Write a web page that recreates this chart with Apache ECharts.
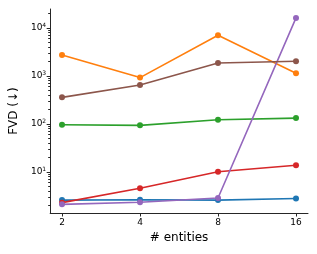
<!DOCTYPE html>
<html><head><meta charset="utf-8">
<script src="https://cdn.jsdelivr.net/npm/echarts@6/dist/echarts.min.js"></script>
<style>html,body{margin:0;padding:0;background:#fff}#c{width:317px;height:254px}</style>
</head><body><div id="c"></div>
<script>
const entities = [2, 4, 8, 16];
const yTicks = [10, 100, 1000, 10000];
const yMinor = [2,3,4,5,6,7,8,9,20,30,40,50,60,70,80,90,200,300,400,500,600,700,800,900,2000,3000,4000,5000,6000,7000,8000,9000,20000];
const seriesBlue   = [2.6, 2.65, 2.6, 2.8];
const seriesOrange = [2750, 930, 7100, 1150];
const seriesGreen  = [97, 94, 123, 133];
const seriesRed    = [2.3, 4.6, 10.1, 13.8];
const seriesPurple = [2.12, 2.35, 2.87, 16300];
const seriesBrown  = [360, 650, 1870, 2040];
const colors = ['#1f77b4','#ff7f0e','#2ca02c','#d62728','#9467bd','#8c564b'];
const allSeries = [seriesBlue, seriesOrange, seriesGreen, seriesRed, seriesPurple, seriesBrown];
const font = 'DejaVu Sans';
const chart = echarts.init(document.getElementById('c'), null, {renderer:'canvas'});
const axisCol = '#262626';
chart.setOption({
  animation:false,
  grid:{left:47, top:9, right:9, bottom:41, containLabel:false},
  xAxis:{
    type:'log', logBase:2, min:1.8, max:17.8,
    name:'# entities', nameLocation:'middle', nameGap:18,
    nameTextStyle:{fontFamily:font, fontSize:12, color:'#000'},
    axisLine:{lineStyle:{color:axisCol, width:1}},
    axisTick:{customValues:entities, length:3.5, lineStyle:{color:axisCol}},
    axisLabel:{customValues:entities, fontFamily:font, fontSize:9, color:'#000', margin:5, formatter:v=>String(Math.round(v))},
    splitLine:{show:false}, minorTick:{show:false}
  },
  yAxis:[{
    type:'log', logBase:10, min:1.4, max:25000,
    name:'FVD (↓)', nameLocation:'middle', nameGap:30, nameRotate:90,
    nameTextStyle:{fontFamily:font, fontSize:12, color:'#000'},
    axisLine:{show:true, lineStyle:{color:axisCol, width:1}},
    axisTick:{customValues:yTicks, length:3.5, lineStyle:{color:axisCol}},
    axisLabel:{customValues:yTicks, fontFamily:font, fontSize:9, color:'#000', margin:4,
      formatter:v=>'10{s|'+Math.round(Math.log10(v))+'}',
      rich:{s:{fontSize:6, fontFamily:font, verticalAlign:'top', padding:[0,0,5,0], color:'#000'}}},
    splitLine:{show:false}
  },{
    type:'log', logBase:10, min:1.4, max:25000, position:'left',
    axisLine:{show:false},
    axisTick:{customValues:yMinor, length:2, lineStyle:{color:axisCol}},
    axisLabel:{show:false}, splitLine:{show:false}
  }],
  series: allSeries.map((s,i)=>({
    type:'line', yAxisIndex:0,
    data: entities.map((e,j)=>[e, s[j]]),
    symbol:'circle', symbolSize:6,
    lineStyle:{color:colors[i], width:1.6},
    itemStyle:{color:colors[i]},
    z:2+i
  }))
});
</script></body></html>
